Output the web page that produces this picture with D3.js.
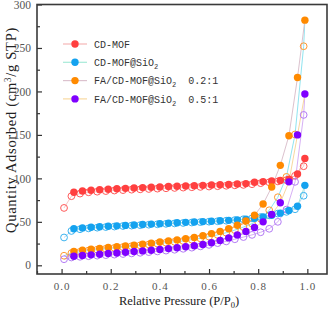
<!DOCTYPE html>
<html>
<head>
<meta charset="utf-8">
<script src="https://cdn.jsdelivr.net/npm/d3@7"></script>
<style>
	body { margin: 0; background: #fff; }
	svg { display: block; }
</style>
</head>
<body>
<script>
// relative pressure grids
let adsP = [0.05, 0.085, 0.12, 0.155, 0.19, 0.225, 0.26, 0.295, 0.33, 0.365, 0.40, 0.435, 0.47, 0.505,
	0.54, 0.575, 0.61, 0.645, 0.68, 0.715, 0.75, 0.785, 0.82, 0.855, 0.89, 0.925, 0.96, 0.99];
let desP = [0.985, 0.95, 0.915, 0.88, 0.845, 0.81, 0.775, 0.74, 0.705, 0.67, 0.635, 0.60, 0.565, 0.53,
	0.495, 0.46, 0.425, 0.39, 0.355, 0.32, 0.285, 0.25, 0.215, 0.18, 0.145, 0.11, 0.075, 0.04, 0.01];

// adsorption (filled) and desorption (open) branches
let cdAds = [84, 85.5, 86.3, 87, 87.5, 88, 88.5, 89, 89.4, 89.8, 90.2, 90.6, 91, 91.3, 91.6, 92, 92.3,
	92.7, 93, 93.5, 94, 95.5, 96.3, 97, 97.5, 99, 105, 123];
let cdDes = [114, 103, 98, 96.5, 95.5, 94.5, 93.3, 92.5, 92, 91.5, 91, 90.6, 90.2, 89.8, 89.4, 89, 88.6,
	88.2, 87.8, 87.4, 87, 86.5, 86, 85.4, 84.7, 84, 82.5, 79.5, 66];
let siAds = [42, 43, 43.7, 44.3, 44.9, 45.4, 45.9, 46.4, 46.9, 47.4, 47.9, 48.4, 48.9, 49.4, 49.9, 50.3,
	50.7, 51.2, 51.7, 52.3, 53, 54, 55.5, 57.5, 60, 63, 68, 92];
let siDes = [80, 64.5, 61.5, 59.5, 57.5, 55.5, 54, 53, 52, 51.3, 50.7, 50.2, 49.7, 49.2, 48.7, 48.2, 47.7,
	47.2, 46.7, 46.2, 45.7, 45.2, 44.6, 44, 43.3, 42.5, 41.5, 39.5, 32];
let fa2Ads = [16, 17.5, 18.5, 19.5, 20.5, 21.3, 22.2, 23.2, 24.2, 25.5, 26.8, 28, 29.2, 30.5, 32, 34,
	36.5, 39, 42, 46, 51, 57.5, 70.5, 90, 115, 149, 216, 282];
let fa2Des = [252, 150.5, 101.7, 78.3, 63.3, 53.6, 47.9, 44, 40.5, 37.5, 35, 33, 31, 29.5, 28, 27, 26,
	25, 24, 23, 22, 21, 20, 19, 18, 17, 15.5, 14, 11];
let fa5Ads = [10.5, 11.2, 12, 12.8, 13.5, 14.2, 15, 15.8, 16.6, 17.4, 18.3, 19.2, 20.2, 21.3, 22.5, 24,
	26, 28.5, 31.5, 35, 39, 43.5, 50, 58.5, 72, 96, 150, 197];
let fa5Des = [173, 96, 64, 50, 42, 38, 35, 32.5, 30, 27.5, 25.5, 23.5, 21.8, 20.3, 19, 17.9, 16.9, 16,
	15.2, 14.4, 13.7, 13, 12.3, 11.7, 11.1, 10.5, 9.8, 9, 7];

let xTicks = [0.0, 0.2, 0.4, 0.6, 0.8, 1.0];
let yTicks = [0, 50, 100, 150, 200, 250, 300];

let series = [
	{name: ["CD-MOF"], ads: cdAds, des: cdDes,
	 dot: "#ff3f3f", open: "#ff5a5a", adsLine: "#f5b5b5", desLine: "#f7c8c8"},
	{name: ["CD-MOF@SiO", "2"], ads: siAds, des: siDes,
	 dot: "#14a2ef", open: "#3cb4f0", adsLine: "#a6ead8", desLine: "#b3dcf5"},
	{name: ["FA/CD-MOF@SiO", "2", "  0.2:1"], ads: fa2Ads, des: fa2Des,
	 dot: "#ff8a00", open: "#ff9a30", adsLine: "#dcc2ce", desLine: "#90e4f0"},
	{name: ["FA/CD-MOF@SiO", "2", "  0.5:1"], ads: fa5Ads, des: fa5Des,
	 dot: "#7f00ff", open: "#b47cf5", adsLine: "#f8d8a0", desLine: "#d6b0f5"}
];

// canvas
let W = 334, H = 313;
let margin = {left: 37, right: 327, top: 4.5, bottom: 274};

let svg = d3.select("body").append("svg")
	.attr("width", W)
	.attr("height", H);

let xScale = d3.scaleLinear().domain([-0.1, 1.08]).range([margin.left, margin.right]);
let yScale = d3.scaleLinear().domain([-10, 300]).range([margin.bottom, margin.top]);

// axes, ticks pointing inwards
let xAxis = d3.axisBottom(xScale).tickValues(xTicks).tickSizeInner(-5).tickSizeOuter(0)
	.tickPadding(8).tickFormat(d3.format(".1f"));
let xMinor = d3.axisBottom(xScale).tickValues([-0.1, 0.1, 0.3, 0.5, 0.7, 0.9]).tickSizeInner(-3)
	.tickSizeOuter(0).tickFormat("");
let yAxis = d3.axisLeft(yScale).tickValues(yTicks).tickSizeInner(-5).tickSizeOuter(0).tickPadding(6);
let yMinor = d3.axisLeft(yScale).tickValues([25, 75, 125, 175, 225, 275]).tickSizeInner(-3)
	.tickSizeOuter(0).tickFormat("");

let xAxisEl = svg.append("g").attr("transform", "translate(0," + margin.bottom + ")").call(xAxis);
svg.append("g").attr("transform", "translate(0," + margin.bottom + ")").call(xMinor);
let yAxisEl = svg.append("g").attr("transform", "translate(" + margin.left + ",0)").call(yAxis);
svg.append("g").attr("transform", "translate(" + margin.left + ",0)").call(yMinor);

svg.selectAll(".domain").remove();
svg.selectAll(".tick line").attr("stroke", "#333").attr("stroke-width", 1.2);

xAxisEl.selectAll("text")
	.style("font-family", "'Liberation Serif', serif")
	.style("font-size", "11px")
	.style("letter-spacing", "1px")
	.attr("fill", "#555");
yAxisEl.selectAll("text")
	.style("font-family", "'Liberation Serif', serif")
	.style("font-size", "11.5px")
	.attr("fill", "#555");

// frame
svg.append("rect")
	.attr("x", margin.left).attr("y", margin.top)
	.attr("width", margin.right - margin.left).attr("height", margin.bottom - margin.top)
	.attr("fill", "none")
	.attr("stroke", "#3a3a3a")
	.attr("stroke-width", 1.6);

let line = d3.line()
	.x(function(d) { return xScale(d[0]); })
	.y(function(d) { return yScale(d[1]); });

let plot = svg.append("g");

series.forEach(function(s) {
	s.adsPts = adsP.map(function(p, i) { return [p, s.ads[i]]; });
	s.desPts = desP.map(function(p, i) { return [p, s.des[i]]; });
});

// lines first
series.forEach(function(s) {
	let last = s.adsPts[s.adsPts.length - 1];
	plot.append("path").datum([last].concat(s.desPts))
		.attr("d", line).attr("fill", "none")
		.attr("stroke", s.desLine).attr("stroke-width", 1);
	plot.append("path").datum(s.adsPts)
		.attr("d", line).attr("fill", "none")
		.attr("stroke", s.adsLine).attr("stroke-width", 1);
});

// open markers (desorption)
series.forEach(function(s) {
	plot.append("g").selectAll("circle")
		.data(s.desPts).enter().append("circle")
		.attr("cx", function(d) { return xScale(d[0]); })
		.attr("cy", function(d) { return yScale(d[1]); })
		.attr("r", 3.4)
		.attr("fill", "none")
		.attr("stroke", s.open)
		.attr("stroke-width", 1);
});

// filled markers (adsorption)
series.forEach(function(s) {
	plot.append("g").selectAll("circle")
		.data(s.adsPts).enter().append("circle")
		.attr("cx", function(d) { return xScale(d[0]); })
		.attr("cy", function(d) { return yScale(d[1]); })
		.attr("r", 3.7)
		.attr("fill", s.dot);
});

// legend
let legend = svg.append("g");
series.forEach(function(s, i) {
	let ly = 44 + i * 18.3;
	legend.append("line")
		.attr("x1", 63).attr("x2", 87).attr("y1", ly).attr("y2", ly)
		.attr("stroke", s.adsLine).attr("stroke-width", 1.2);
	legend.append("circle")
		.attr("cx", 75).attr("cy", ly).attr("r", 3.7).attr("fill", s.dot);
	let t = legend.append("text")
		.attr("x", 94).attr("y", ly + 3.8)
		.style("font-family", "'Liberation Mono', monospace")
		.style("font-size", "10px")
		.attr("fill", "#333")
		.attr("xml:space", "preserve")
		.style("white-space", "pre");
	s.name.forEach(function(part, k) {
		if (k === 1) {
			t.append("tspan").attr("dy", 3).style("font-size", "7px").text(part);
		} else if (k === 2) {
			t.append("tspan").attr("dy", -3).text(part);
		} else {
			t.append("tspan").text(part);
		}
	});
});

// axis titles
let yTitle = svg.append("text")
	.attr("transform", "translate(16,130) rotate(-90)")
	.attr("text-anchor", "middle")
	.style("font-family", "'Liberation Serif', serif")
	.style("font-size", "14.5px")
	.style("letter-spacing", "0.7px")
	.attr("fill", "#222");
yTitle.append("tspan").text("Quantity Adsorbed (cm");
yTitle.append("tspan").attr("dy", -5).style("font-size", "9.5px").text("3");
yTitle.append("tspan").attr("dy", 5).text("/g STP)");

let xTitle = svg.append("text")
	.attr("x", (margin.left + margin.right) / 2 - 3)
	.attr("y", 305)
	.attr("text-anchor", "middle")
	.style("font-family", "'Liberation Serif', serif")
	.style("font-size", "12.5px")
	.attr("fill", "#222");
xTitle.append("tspan").text("Relative Pressure (P/P");
xTitle.append("tspan").attr("dy", 3).style("font-size", "8.5px").text("0");
xTitle.append("tspan").attr("dy", -3).text(")");
</script>
</body>
</html>
